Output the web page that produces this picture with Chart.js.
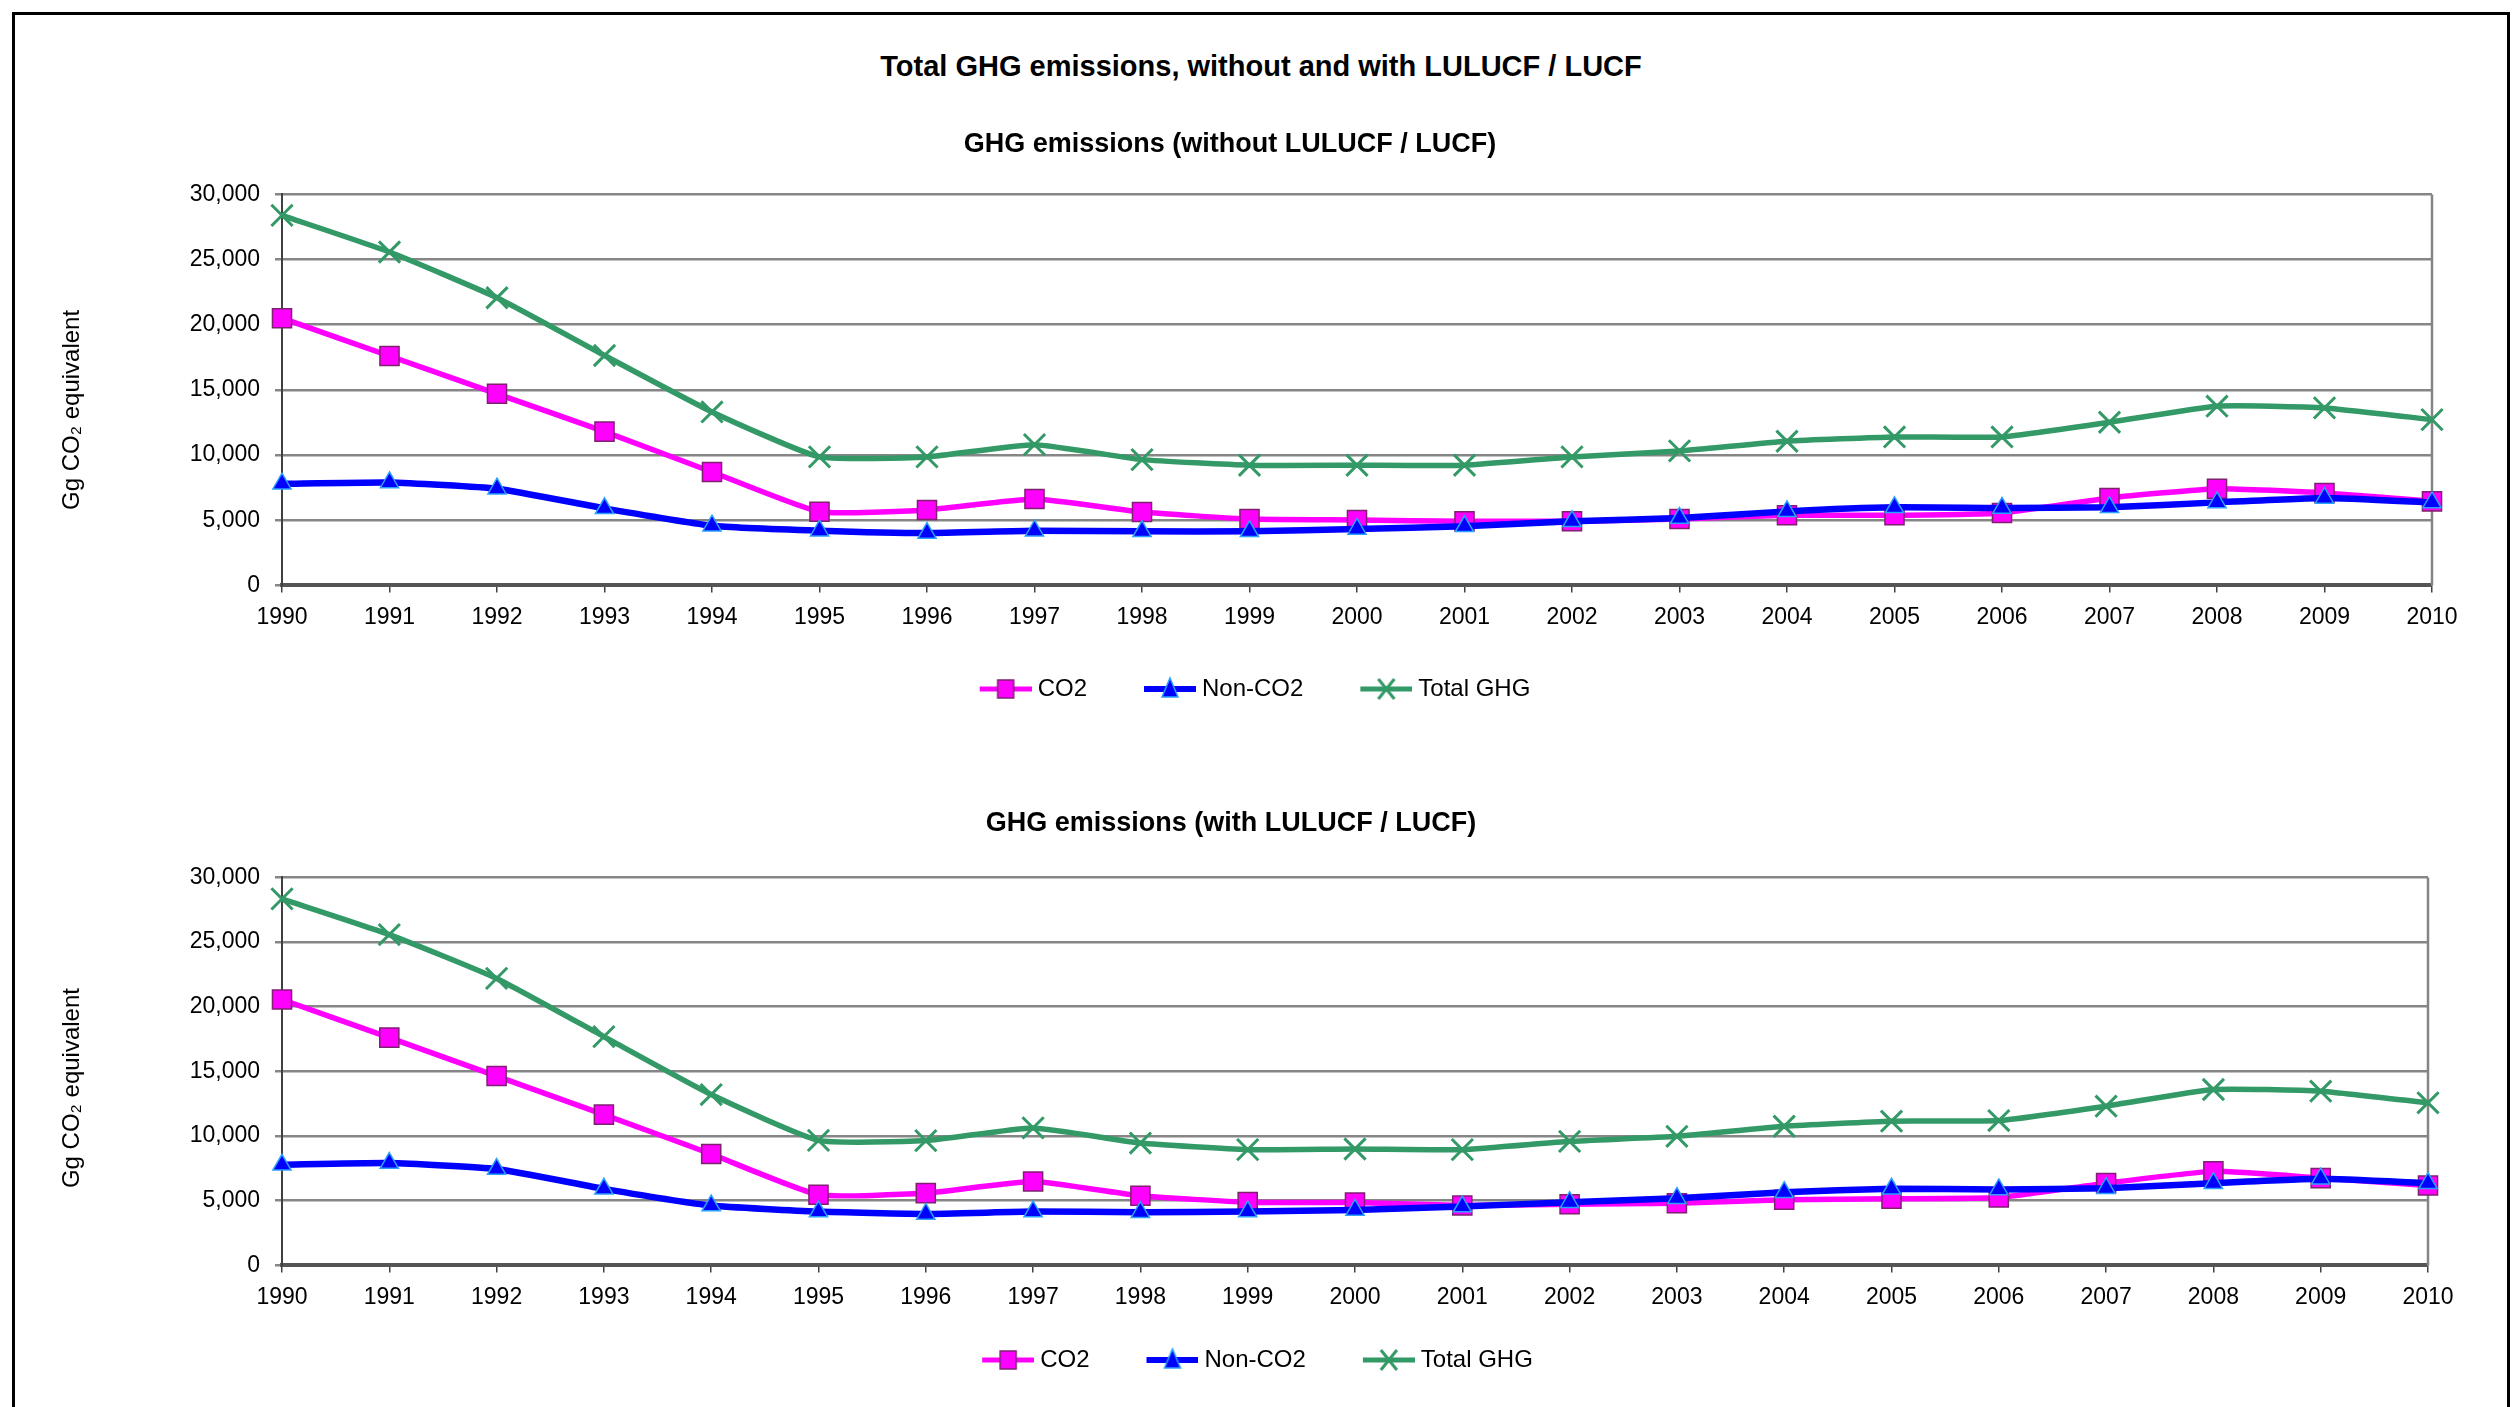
<!DOCTYPE html>
<html>
<head>
<meta charset="utf-8">
<title>Total GHG emissions</title>
<script src="https://cdn.jsdelivr.net/npm/chart.js@4.4.1/dist/chart.umd.min.js"></script>
<style>
  html, body { margin: 0; padding: 0; background: #fff; overflow: hidden; }
  body { width: 2515px; height: 1407px; position: relative; font-family: "Liberation Sans", Arial, sans-serif; }
  #frame { position: absolute; left: 12px; top: 12px; width: 2492px; height: 1500px; border: 3px solid #000; }
  #main-title { position: absolute; left: 12px; width: 2498px; top: 47px; text-align: center;
                font-weight: bold; font-size: 29px; line-height: 38px; color: #000; }
  .chart-box { position: absolute; left: 0; }
  #box1 { top: 112px; }
  #box2 { top: 792px; }
</style>
</head>
<body>
<div id="frame"></div>
<div id="main-title">Total GHG emissions, without and with LULUCF / LUCF</div>
<div class="chart-box" id="box1"><canvas id="chart1" width="2480" height="599"></canvas></div>
<div class="chart-box" id="box2"><canvas id="chart2" width="2480" height="590"></canvas></div>

<script>
// --- DATA ---
const years = ['1990', '1991', '1992', '1993', '1994', '1995', '1996', '1997', '1998', '1999', '2000',
               '2001', '2002', '2003', '2004', '2005', '2006', '2007', '2008', '2009', '2010'];

const yTicks = [0, 5000, 10000, 15000, 20000, 25000, 30000];

// without LULUCF / LUCF
const co2Without    = [20500, 17600, 14700, 11800, 8700, 5650, 5790, 6630, 5630, 5090, 5020,
                       4920, 4920, 5090, 5380, 5380, 5560, 6710, 7420, 7090, 6450];
const nonCo2Without = [7800, 7900, 7420, 5910, 4580, 4200, 4020, 4200, 4150, 4150, 4330,
                       4530, 4920, 5170, 5680, 5990, 5940, 5990, 6370, 6710, 6370];
const totalWithout  = [28390, 25580, 22070, 17640, 13310, 9860, 9860, 10800, 9650, 9220, 9220,
                       9220, 9860, 10320, 11060, 11390, 11390, 12520, 13750, 13620, 12720];

// with LULUCF / LUCF
const co2With    = [20560, 17610, 14640, 11660, 8610, 5460, 5590, 6490, 5380, 4890, 4860,
                    4630, 4730, 4810, 5070, 5150, 5250, 6360, 7270, 6750, 6180];
const nonCo2With = [7780, 7910, 7450, 5920, 4630, 4160, 3980, 4160, 4110, 4160, 4290,
                    4550, 4890, 5200, 5660, 5920, 5870, 5970, 6360, 6700, 6360];
const totalWith  = [28340, 25580, 22190, 17690, 13210, 9670, 9650, 10630, 9460, 8950, 9000,
                    8950, 9590, 9980, 10760, 11150, 11200, 12310, 13600, 13470, 12570];

const seriesLabels = ['CO2', 'Non-CO2', 'Total GHG'];

// --- STYLE ---
const FONT = '"Liberation Sans", Arial, sans-serif';
Chart.defaults.font.family = FONT;
Chart.defaults.color = '#000';

const MAGENTA = '#FF00FF';
const BLUE = '#0000FF';
const GREEN = '#339966';

// legend icon: line segment with the marker in the middle (Excel style),
// with `lead` px of empty space in front so items sit further apart
function legendIcon(kind, lead) {
    const c = document.createElement('canvas');
    c.width = lead + 58; c.height = 26;
    const ctx = c.getContext('2d');
    const x0 = lead + 6, x1 = x0 + 52, cx = x0 + 26, cy = 13;
    ctx.lineCap = 'butt';
    if (kind === 'co2') {
        ctx.strokeStyle = MAGENTA; ctx.lineWidth = 5;
        ctx.beginPath(); ctx.moveTo(x0, cy); ctx.lineTo(x1, cy); ctx.stroke();
        ctx.fillStyle = MAGENTA; ctx.strokeStyle = '#7F2070'; ctx.lineWidth = 1.5;
        ctx.fillRect(cx - 8, cy - 9, 16, 18); ctx.strokeRect(cx - 8, cy - 9, 16, 18);
    } else if (kind === 'non') {
        ctx.strokeStyle = BLUE; ctx.lineWidth = 6;
        ctx.beginPath(); ctx.moveTo(x0, cy); ctx.lineTo(x1, cy); ctx.stroke();
        ctx.fillStyle = BLUE; ctx.strokeStyle = '#2AA0FF'; ctx.lineWidth = 1.5;
        ctx.beginPath(); ctx.moveTo(cx, cy - 11); ctx.lineTo(cx + 8, cy + 8); ctx.lineTo(cx - 8, cy + 8);
        ctx.closePath(); ctx.fill(); ctx.stroke();
    } else {
        ctx.strokeStyle = GREEN; ctx.lineWidth = 5;
        ctx.beginPath(); ctx.moveTo(x0, cy); ctx.lineTo(x1, cy); ctx.stroke();
        ctx.lineWidth = 3;
        ctx.beginPath();
        ctx.moveTo(cx - 8, cy - 10); ctx.lineTo(cx + 8, cy + 10);
        ctx.moveTo(cx + 8, cy - 10); ctx.lineTo(cx - 8, cy + 10);
        ctx.stroke();
    }
    return c;
}

// right-hand border of the plot area + nudge legend/title towards page centre
const plotFrame = {
    id: 'plotFrame',
    afterLayout(chart, args, opts) {
        if (chart.legend) {
            chart.legend.left += opts.legendShift || 0;
            chart.legend.right += opts.legendShift || 0;
        }
        if (chart.titleBlock) {
            chart.titleBlock.left += opts.titleShift || 0;
            chart.titleBlock.right += opts.titleShift || 0;
        }
    },
    beforeDatasetsDraw(chart) {
        const a = chart.chartArea, ctx = chart.ctx;
        ctx.save();
        ctx.strokeStyle = '#858585';
        ctx.lineWidth = 2.5;
        ctx.beginPath();
        ctx.moveTo(a.right, a.top);
        ctx.lineTo(a.right, a.bottom);
        ctx.stroke();
        ctx.restore();
    }
};

function makeChart(canvasId, title, co2, nonCo2, total, opts) {
    const ctx = document.getElementById(canvasId).getContext('2d');
    const lead = 57 - opts.legendPad;
    const icons = [legendIcon('co2', lead), legendIcon('non', lead), legendIcon('total', lead)];
    return new Chart(ctx, {
        type: 'line',
        data: {
            labels: years,
            datasets: [
                {
                    label: seriesLabels[0], data: co2,
                    borderColor: MAGENTA, backgroundColor: MAGENTA, borderWidth: 5.5, tension: 0.15,
                    pointStyle: 'rect', pointRadius: 13.5,
                    pointBackgroundColor: MAGENTA, pointBorderColor: '#7F2070', pointBorderWidth: 1.5,
                    order: 2
                },
                {
                    label: seriesLabels[1], data: nonCo2,
                    borderColor: BLUE, backgroundColor: BLUE, borderWidth: 6.5, tension: 0.15,
                    pointStyle: 'triangle', pointRadius: 10.5,
                    pointBackgroundColor: BLUE, pointBorderColor: '#2AA0FF', pointBorderWidth: 1.5,
                    order: 1
                },
                {
                    label: seriesLabels[2], data: total,
                    borderColor: GREEN, backgroundColor: GREEN, borderWidth: 5.5, tension: 0.15,
                    pointStyle: 'crossRot', pointRadius: 15,
                    pointBorderColor: GREEN, pointBorderWidth: 3,
                    order: 0
                }
            ]
        },
        options: {
            responsive: false,
            animation: false,
            layout: { padding: { top: 0, right: opts.rightPad, bottom: 0, left: 0 } },
            plugins: {
                plotFrame: { legendShift: 28, titleShift: opts.subtitleShift },
                title: {
                    display: true, text: title, color: '#000',
                    font: { size: 27, weight: 'bold' },
                    padding: { top: opts.titleTop, bottom: opts.titleBottom }
                },
                legend: {
                    position: 'bottom',
                    labels: {
                        font: { size: 24 }, color: '#000',
                        usePointStyle: true, pointStyleWidth: lead + 46, boxHeight: 22,
                        padding: opts.legendPad,
                        generateLabels: chart => chart.data.datasets.map((ds, i) => ({
                            text: ds.label, pointStyle: icons[i], datasetIndex: i,
                            hidden: false, lineWidth: 0, fillStyle: ds.borderColor, strokeStyle: ds.borderColor,
                            fontColor: '#000'
                        }))
                    }
                },
                tooltip: { enabled: false }
            },
            scales: {
                x: {
                    offset: false,
                    afterFit: s => { s.paddingLeft = 0; s.paddingRight = 0; },
                    ticks: { font: { size: 23 }, color: '#000', padding: 11, maxRotation: 0, autoSkip: false },
                    grid: { drawOnChartArea: false, drawTicks: true, tickLength: 7, color: '#404040', lineWidth: 1.5 },
                    border: { display: true, color: '#555', width: 4 }
                },
                y: {
                    min: 0, max: 30000,
                    afterBuildTicks: s => { s.ticks = yTicks.map(v => ({ value: v })); },
                    afterFit: s => { s.width = 282; },
                    ticks: {
                        font: { size: 23 }, color: '#000', padding: 15,
                        callback: v => Number(v).toLocaleString('en-US')
                    },
                    grid: { color: '#868686', lineWidth: 2.5, tickLength: 7, drawTicks: true },
                    border: { display: true, color: '#404040', width: 2 },
                    title: {
                        // trailing blanks push the rotated label a little below the axis middle, as in the original
                        display: true, text: 'Gg CO\u2082 equivalent' + '\u00a0'.repeat(opts.titleShift), color: '#000',
                        font: { size: 24 }, padding: { top: 58, bottom: 0 }
                    }
                }
            }
        },
        plugins: [plotFrame]
    });
}

makeChart('chart1', 'GHG emissions (without LULUCF / LUCF)', co2Without, nonCo2Without, totalWithout,
          { rightPad: 48, titleTop: 16, titleBottom: 34, legendPad: 35, titleShift: 6, subtitleShift: 14 });
makeChart('chart2', 'GHG emissions (with LULUCF / LUCF)', co2With, nonCo2With, totalWith,
          { rightPad: 52, titleTop: 15, titleBottom: 38, legendPad: 26, titleShift: 5, subtitleShift: 17 });
</script>
</body>
</html>
